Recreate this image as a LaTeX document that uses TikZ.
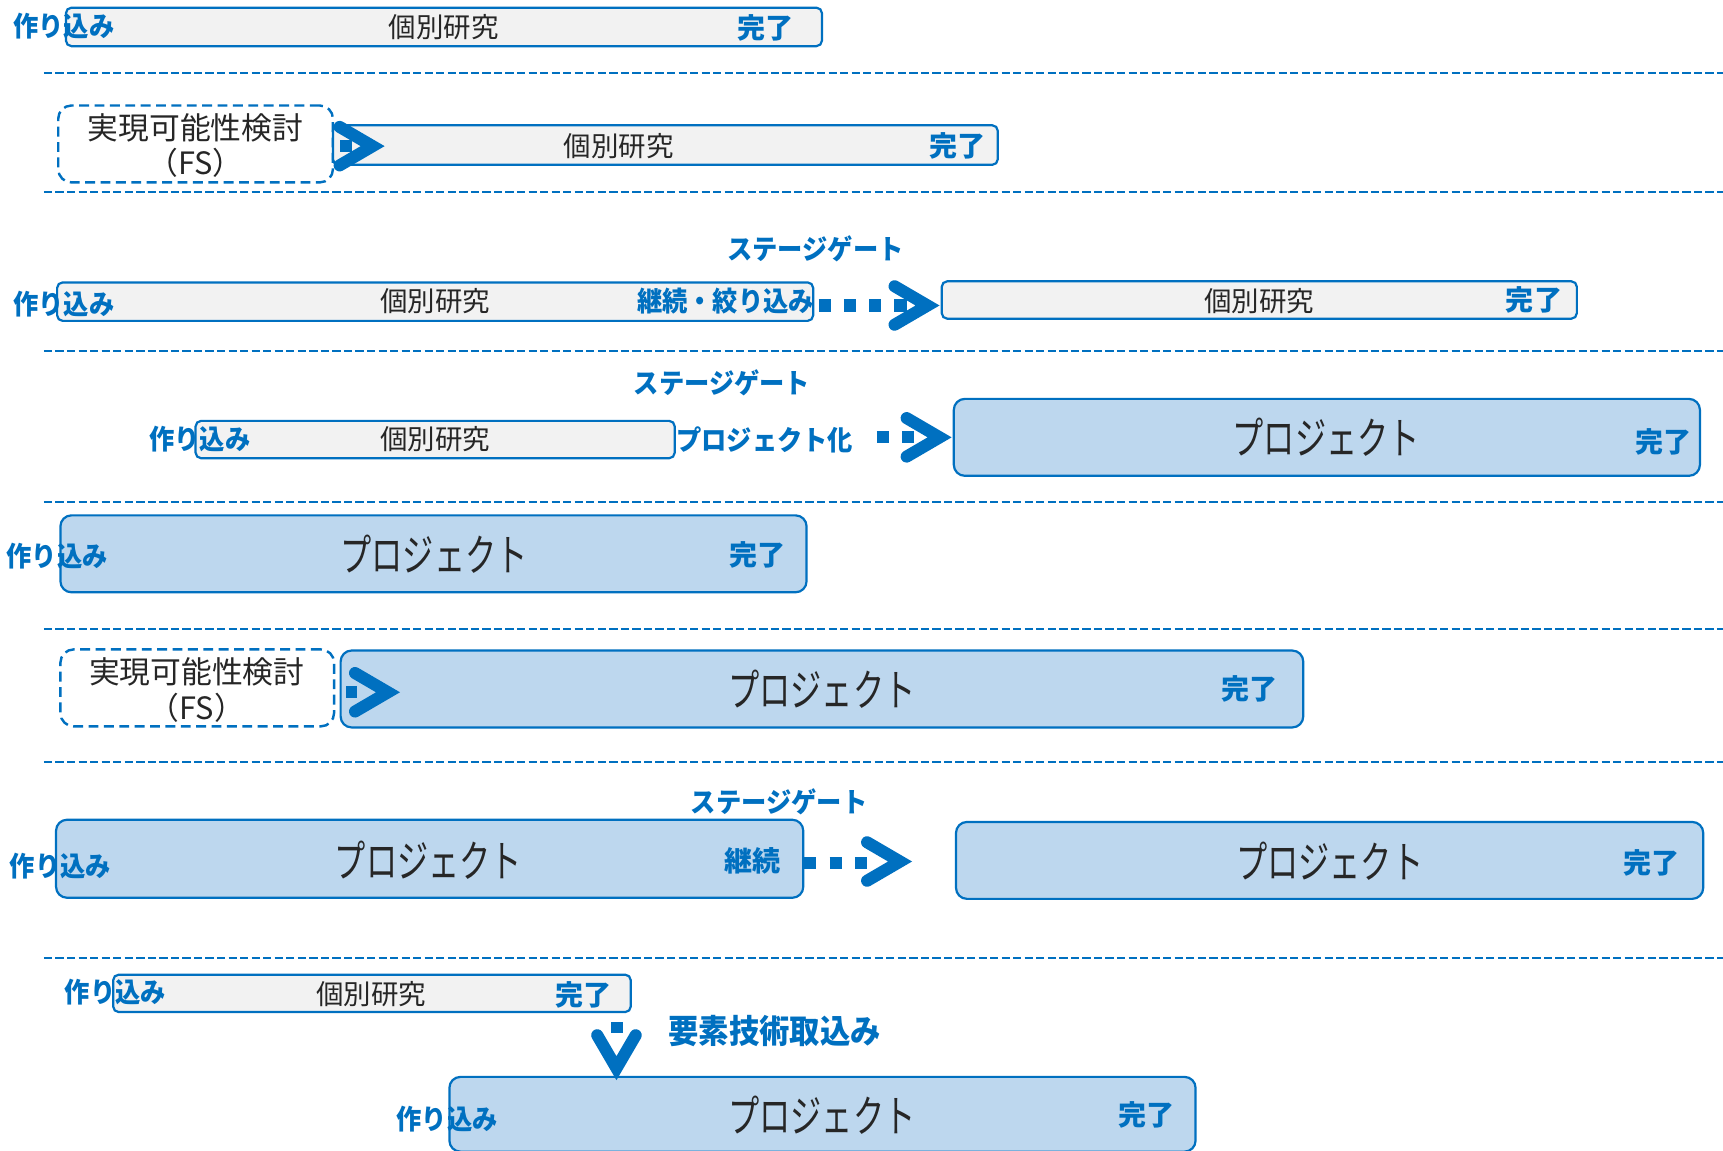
\documentclass[tikz,border=0pt]{standalone}
\usepackage{fontspec}
\setmainfont{Noto Sans CJK JP}
\newfontfamily\jp{Noto Sans CJK JP}
\newfontfamily\jpn[FakeStretch=0.92]{Noto Sans CJK JP}
\usetikzlibrary{calc}
\definecolor{mblue}{HTML}{0070C0}
\definecolor{lblue}{HTML}{BDD7EE}
\definecolor{lgray}{HTML}{F2F2F2}
\definecolor{dtext}{HTML}{262626}
\newcommand\prj{\scalebox{0.71}[1]{プロジェクト}}
\tikzset{
  gbox/.style={draw=mblue, line width=2pt, fill=lgray, rounded corners=5pt, inner sep=0pt},
  pbox/.style={draw=mblue, line width=2pt, fill=lblue, rounded corners=10pt, inner sep=0pt},
  fsbox/.style={draw=mblue, line width=2.2pt, dash pattern=on 9pt off 5pt, rounded corners=12pt, inner sep=0pt},
  lbl/.style={text=mblue, font=\jpn\bfseries\fontsize{25}{25}\selectfont, inner sep=0pt},
  done/.style={text=mblue, font=\jp\bfseries\fontsize{25.5}{25.5}\selectfont, inner sep=0pt},
  lblbig/.style={text=mblue, font=\jpn\bfseries\fontsize{30}{30}\selectfont, inner sep=0pt},
  gtxt/.style={text=dtext, font=\jp\fontsize{25}{25}\selectfont, inner sep=0pt},
  fstxt/.style={text=dtext, font=\jp\fontsize{28}{28}\selectfont, inner sep=0pt},
  ptxt/.style={text=dtext, font=\jp\fontsize{40}{40}\selectfont, inner sep=0pt},
  sepline/.style={draw=mblue, line width=1.8pt, dash pattern=on 7.5pt off 3pt},
  dotline/.style={draw=mblue, line width=11pt, dash pattern=on 11pt off 12pt},
  chev/.style={draw=mblue, line width=11pt, line cap=round, line join=miter},
}
\begin{document}
\begin{tikzpicture}[x=1pt,y=-1pt]
\clip (0,0) rectangle (1568,1047);
\fill[white] (0,0) rectangle (1568,1047);

% separators
\foreach \yy in {66,175,319,457,572,693,872}{
  \draw[sepline] (40,\yy) -- (1568,\yy);
}

% ---------- Row 1
\node[gbox, minimum width=688pt, minimum height=35pt] (r1b) at (404,24.5) {};
\node[gtxt] (r1t) at (404,25) {個別研究};
\node[done] (r1d) at (697,25) {完了};
\node[lbl] (r1m) at (58,24) {作り込み};

% ---------- Row 2
\node[fsbox, minimum width=250pt, minimum height=70pt] (fs1) at (178,131) {};
\node[fstxt] (fs1a) at (178,116) {実現可能性検討};
\node[fstxt] (fs1b) at (178,148) {（FS）};
\node[gbox, minimum width=605pt, minimum height=36pt] (r2b) at (605.5,132) {};
\node[gtxt] (r2t) at (563,133) {個別研究};
\node[done] (r2d) at (871,133) {完了};
\coordinate (s2a) at (309.5,132.5);
\coordinate (s2b) at (320,132.5);
\draw[dotline] (s2a) -- (s2b);
\coordinate (c2) at (350,133);
\draw[chev] ($(c2)+(-40.9,-17.5)$) -- ($(c2)+(-10.9,0)$) -- ($(c2)+(-40.9,17.5)$);

% ---------- Row 3
\node[lbl] (sg3) at (742,226) {ステージゲート};
\node[gbox, minimum width=688pt, minimum height=35pt] (r3a) at (396,274.5) {};
\node[lbl] (r3m) at (58,277) {作り込み};
\node[gtxt] (r3t) at (396,274) {個別研究};
\node[lbl, anchor=east] (r3k) at (741,274) {継続・絞り込み};
\node[gbox, minimum width=578pt, minimum height=34pt] (r3b) at (1146,273) {};
\node[gtxt] (r3t2) at (1146,274) {個別研究};
\node[done] (r3d) at (1396,273) {完了};
\coordinate (d3s) at (745,278);
\coordinate (d3e) at (825,278);
\draw[dotline] (d3s) -- (d3e);
\coordinate (c3) at (855,278);
\draw[chev] ($(c3)+(-40.9,-17.5)$) -- ($(c3)+(-10.9,0)$) -- ($(c3)+(-40.9,17.5)$);

% ---------- Row 4
\node[lbl] (sg4) at (657,348) {ステージゲート};
\node[gbox, minimum width=436pt, minimum height=34pt] (r4a) at (396,400) {};
\node[lbl] (r4m) at (182,400) {作り込み};
\node[gtxt] (r4t) at (396,400) {個別研究};
\node[lbl] (r4k) at (696,400) {プロジェクト化};
\node[pbox, minimum width=679pt, minimum height=70pt] (r4b) at (1207.5,398) {};
\node[ptxt] (r4p) at (1207,398) {\prj};
\node[done] (r4d) at (1514,402) {完了};
\coordinate (d4s) at (798,398);
\coordinate (d4e) at (832,398);
\draw[dotline] (d4s) -- (d4e);
\coordinate (c4) at (866,398);
\draw[chev] ($(c4)+(-40.9,-17.5)$) -- ($(c4)+(-10.9,0)$) -- ($(c4)+(-40.9,17.5)$);

% ---------- Row 5
\node[pbox, minimum width=679pt, minimum height=70pt] (r5) at (394.5,504) {};
\node[lbl] (r5m) at (52,506) {作り込み};
\node[ptxt] (r5p) at (395,504) {\prj};
\node[done] (r5d) at (689,505) {完了};

% ---------- Row 6
\node[fsbox, minimum width=249pt, minimum height=70pt] (fs2) at (179.5,626) {};
\node[fstxt] (fs2a) at (179,611) {実現可能性検討};
\node[fstxt] (fs2b) at (179,644) {（FS）};
\node[pbox, minimum width=876pt, minimum height=70pt] (r6) at (748,627) {};
\node[ptxt] (r6p) at (748,627) {\prj};
\node[done] (r6d) at (1137,627) {完了};
\coordinate (s6a) at (315,629.5);
\coordinate (s6b) at (325,629.5);
\draw[dotline] (s6a) -- (s6b);
\coordinate (c6) at (364,630);
\draw[chev] ($(c6)+(-40.9,-17.5)$) -- ($(c6)+(-10.9,0)$) -- ($(c6)+(-40.9,17.5)$);

% ---------- Row 7
\node[lbl] (sg7) at (709,730) {ステージゲート};
\node[pbox, minimum width=680pt, minimum height=71pt] (r7a) at (391,781.5) {};
\node[lbl] (r7m) at (55,788) {作り込み};
\node[ptxt] (r7p) at (390,783) {\prj};
\node[done] (r7k) at (685,783) {継続};
\node[pbox, minimum width=680pt, minimum height=70pt] (r7b) at (1210,783) {};
\node[ptxt] (r7p2) at (1210,784) {\prj};
\node[done] (r7d) at (1503,785) {完了};
\coordinate (d7s) at (732,785);
\coordinate (d7e) at (789,785);
\draw[dotline] (d7s) -- (d7e);
\coordinate (c7) at (830,784);
\draw[chev] ($(c7)+(-40.9,-17.5)$) -- ($(c7)+(-10.9,0)$) -- ($(c7)+(-40.9,17.5)$);

% ---------- Row 8
\node[gbox, minimum width=471pt, minimum height=34pt] (r8a) at (338.5,904) {};
\node[lbl] (r8m) at (105,903) {作り込み};
\node[gtxt] (r8t) at (338,905) {個別研究};
\node[done] (r8d) at (531,905) {完了};
\node[lblbig] (r8y) at (705,938) {要素技術取込み};
\node[pbox, minimum width=679pt, minimum height=68pt] (r8b) at (748.5,1014) {};
\node[lbl] (r8m2) at (407,1018) {作り込み};
\node[ptxt] (r8p) at (748,1015) {\prj};
\node[done] (r8d2) at (1043,1015) {完了};
\coordinate (s8a) at (561.5,930.5);
\coordinate (s8b) at (561.5,940.5);
\draw[dotline] (s8a) -- (s8b);
\coordinate (c8) at (561,983);
\draw[chev] ($(c8)+(-17.5,-40.9)$) -- ($(c8)+(0,-10.9)$) -- ($(c8)+(17.5,-40.9)$);
\end{tikzpicture}
\end{document}
